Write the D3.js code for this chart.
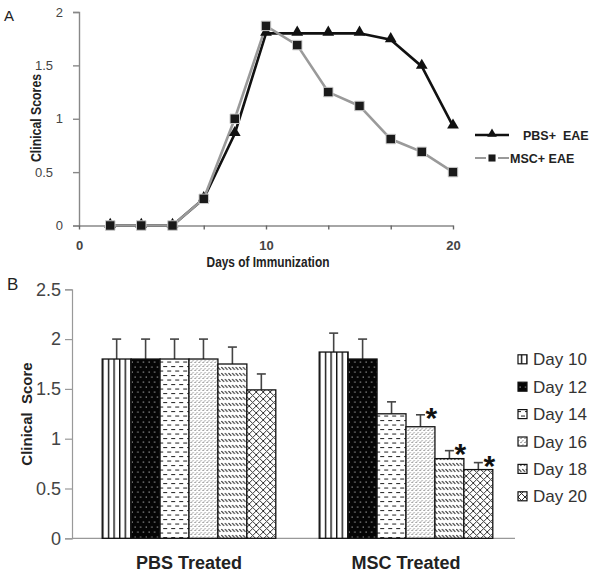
<!DOCTYPE html>
<html><head><meta charset="utf-8">
<script src="https://cdn.jsdelivr.net/npm/d3@7"></script>
<style>
html,body{margin:0;padding:0;background:#fff;}
svg{display:block;font-family:"Liberation Sans",Arial,sans-serif;}
</style></head>
<body>
<svg id="c" width="596" height="577"></svg>
<script>
// ---------- Panel A data ----------
const daysA = [1.67, 3.33, 5, 6.67, 8.33, 10, 11.67, 13.33, 15, 16.67, 18.33, 20];
const pbsA  = [0, 0, 0, 0.25, 0.86, 1.8, 1.8, 1.8, 1.8, 1.74, 1.49, 0.93];
const mscA  = [0, 0, 0, 0.25, 1.0, 1.87, 1.69, 1.25, 1.12, 0.81, 0.69, 0.5];
const yTicksA = [0, 0.5, 1, 1.5, 2];
const xTicksA = [0, 3.33, 6.67, 10, 13.33, 16.67, 20];
const xLabelsA = ["0", "", "", "10", "", "", "20"];
const seriesNamesA = ["PBS+  EAE", "MSC+ EAE"];

// ---------- Panel B data ----------
const groupsB = ["PBS Treated", "MSC Treated"];
const dayNamesB = ["Day 10", "Day 12", "Day 14", "Day 16", "Day 18", "Day 20"];
const pbsB = [1.8, 1.8, 1.8, 1.8, 1.75, 1.49];
const pbsErrB = [0.2, 0.2, 0.2, 0.2, 0.17, 0.16];
const mscB = [1.87, 1.8, 1.25, 1.12, 0.8, 0.69];
const mscErrB = [0.19, 0.2, 0.12, 0.12, 0.08, 0.07];
const mscSigB = [false, false, false, true, true, true];
const yTicksB = [0, 0.5, 1, 1.5, 2, 2.5];

const svg = d3.select("#c");
const defs = svg.append("defs");

// ---------- patterns ----------
function pat(id, w, h, bg, draw) {
  const p = defs.append("pattern").attr("id", id).attr("patternUnits", "userSpaceOnUse")
    .attr("width", w).attr("height", h);
  p.append("rect").attr("width", w).attr("height", h).attr("fill", bg);
  draw(p);
}
pat("p0", 5.6, 10, "#fff", p => p.append("rect").attr("x", 0).attr("y", 0).attr("width", 1.4).attr("height", 10).attr("fill", "#111"));
pat("p1", 5.6, 10, "#050505", p => {
  p.append("rect").attr("x", 1.5).attr("y", 1.5).attr("width", 1.2).attr("height", 1.2).attr("fill", "#aaa");
  p.append("rect").attr("x", 4.3).attr("y", 6.5).attr("width", 1.2).attr("height", 1.2).attr("fill", "#aaa");
});
pat("p2", 8, 9, "#fff", p => {
  p.append("rect").attr("x", 1).attr("y", 1.5).attr("width", 4).attr("height", 1.1).attr("fill", "#333");
  p.append("rect").attr("x", 5).attr("y", 6).attr("width", 4).attr("height", 1.1).attr("fill", "#333");
  p.append("rect").attr("x", -3).attr("y", 6).attr("width", 4).attr("height", 1.1).attr("fill", "#333");
});
pat("p3", 4, 4, "#fff", p => {
  p.append("path").attr("d", "M0.5,3 L2,1.5").attr("stroke", "#555").attr("stroke-width", 1);
  p.append("path").attr("d", "M2.5,1 L3.5,0").attr("stroke", "#777").attr("stroke-width", 0.8);
});
pat("p4", 3.6, 6, "#fff", p => {
  p.append("path").attr("d", "M0.4,1 L3,3.8").attr("stroke", "#333").attr("stroke-width", 1.1);
});
pat("p5", 7, 7, "#fff", p => {
  p.append("path").attr("d", "M0,0 L7,7 M7,0 L0,7").attr("stroke", "#333").attr("stroke-width", 1);
});
const patIds = ["p0", "p1", "p2", "p3", "p4", "p5"];

// ================= Panel A =================
const xA = d3.scaleLinear().domain([0, 20]).range([79, 453]);
const yA = d3.scaleLinear().domain([0, 2]).range([225.5, 12]);
const gA = svg.append("g");

gA.append("text").attr("x", 4).attr("y", 21).attr("font-size", 15).attr("fill", "#222").text("A");

// y axis
const yAxA = gA.append("g").attr("transform", `translate(${xA(0)},0)`)
  .call(d3.axisLeft(yA).tickValues(yTicksA).tickSize(6).tickPadding(16).tickFormat(d => d));
yAxA.select(".domain").attr("stroke", "#888").attr("stroke-width", 1.4);
yAxA.selectAll(".tick line").attr("stroke", "#888").attr("stroke-width", 1.4);
yAxA.selectAll(".tick text").attr("font-size", 13).attr("fill", "#444")
  .attr("font-family", "Liberation Sans, Arial, sans-serif")
  .attr("x", d => Number.isInteger(d) ? -16 : -26);

// x axis
const xAxA = gA.append("g").attr("transform", `translate(0,${yA(0)})`)
  .call(d3.axisBottom(xA).tickValues(xTicksA).tickSize(4).tickSizeOuter(0).tickPadding(11)
    .tickFormat((d, i) => xLabelsA[i]));
xAxA.select(".domain").attr("stroke", "#888").attr("stroke-width", 1.4);
xAxA.selectAll(".tick line").attr("stroke", "#666").attr("stroke-width", 1.4);
xAxA.selectAll(".tick text").attr("font-size", 13).attr("fill", "#444").attr("font-weight", "bold")
  .attr("font-family", "Liberation Sans, Arial, sans-serif");

// axis titles
gA.append("text").attr("transform", `translate(41,118) rotate(-90) scale(0.82,1)`)
  .attr("text-anchor", "middle").attr("font-size", 15).attr("font-weight", "bold").attr("fill", "#222")
  .text("Clinical Scores");
gA.append("text").attr("transform", `translate(268,267) scale(0.85,1)`)
  .attr("text-anchor", "middle").attr("font-size", 14).attr("font-weight", "bold").attr("fill", "#222")
  .text("Days of Immunization");

const lineA = d3.line().x(d => xA(d[0])).y(d => yA(d[1]));
const pbsPts = daysA.map((d, i) => [d, pbsA[i]]);
const mscPts = daysA.map((d, i) => [d, mscA[i]]);
gA.append("path").datum(pbsPts).attr("d", lineA).attr("fill", "none").attr("stroke", "#111").attr("stroke-width", 2.6);
gA.append("path").datum(mscPts).attr("d", lineA).attr("fill", "none").attr("stroke", "#9a9a9a").attr("stroke-width", 2.6);
const tri = d3.symbol().type(d3.symbolTriangle).size(60);
const sq = d3.symbol().type(d3.symbolSquare).size(90);
gA.selectAll(".tri").data(pbsPts).join("path").attr("class", "tri")
  .attr("transform", d => `translate(${xA(d[0])},${yA(d[1]) - 1})`).attr("d", tri).attr("fill", "#111");
gA.selectAll(".sq").data(mscPts).join("path").attr("class", "sq")
  .attr("transform", d => `translate(${xA(d[0])},${yA(d[1])})`).attr("d", sq)
  .attr("fill", "#1a1a1a").attr("stroke", "#ccc").attr("stroke-width", 1);

// legend A
const legA = gA.append("g");
legA.append("line").attr("x1", 475).attr("x2", 509).attr("y1", 135).attr("y2", 135).attr("stroke", "#111").attr("stroke-width", 2.6);
legA.append("path").attr("transform", "translate(492,134)").attr("d", d3.symbol().type(d3.symbolTriangle).size(40)).attr("fill", "#111");
legA.append("text").attr("x", 523).attr("y", 140).attr("font-size", 12.5).attr("font-weight", "bold").attr("fill", "#222")
  .style("white-space", "pre").text(seriesNamesA[0]);
legA.append("line").attr("x1", 475).attr("x2", 486).attr("y1", 158).attr("y2", 158).attr("stroke", "#9a9a9a").attr("stroke-width", 2);
legA.append("line").attr("x1", 498).attr("x2", 509).attr("y1", 158).attr("y2", 158).attr("stroke", "#9a9a9a").attr("stroke-width", 2);
legA.append("path").attr("transform", "translate(492,158)").attr("d", d3.symbol().type(d3.symbolSquare).size(50)).attr("fill", "#1a1a1a");
legA.append("text").attr("x", 510).attr("y", 163).attr("font-size", 12.5).attr("font-weight", "bold").attr("fill", "#222")
  .text(seriesNamesA[1]);

// ================= Panel B =================
const yB = d3.scaleLinear().domain([0, 2.5]).range([538.3, 289.3]);
const x0 = d3.scaleBand().domain(groupsB).range([80.5, 514.5]).paddingInner(0.2).paddingOuter(0.1);
const x1 = d3.scaleBand().domain(dayNamesB).range([0, x0.bandwidth()]);
const gB = svg.append("g");

gB.append("text").attr("x", 7).attr("y", 290).attr("font-size", 17).attr("fill", "#222").text("B");

const yAxB = gB.append("g").attr("transform", "translate(72,0)")
  .call(d3.axisLeft(yB).tickValues(yTicksB).tickSize(7).tickPadding(4).tickFormat(d => d));
yAxB.select(".domain").attr("stroke", "#999").attr("stroke-width", 1.2);
yAxB.selectAll(".tick line").attr("stroke", "#999").attr("stroke-width", 1.2);
yAxB.selectAll(".tick text").attr("font-size", 18).attr("fill", "#444")
  .attr("font-family", "Liberation Sans, Arial, sans-serif");

gB.append("line").attr("x1", 72).attr("x2", 515).attr("y1", yB(0)).attr("y2", yB(0))
  .attr("stroke", "#999").attr("stroke-width", 1.2);

gB.append("text").attr("transform", "translate(32,414) rotate(-90)")
  .attr("text-anchor", "middle").attr("font-size", 15).attr("font-weight", "bold").attr("fill", "#222")
  .style("white-space", "pre").text("Clinical  Score");

const dataB = [
  { g: groupsB[0], v: pbsB, e: pbsErrB, s: [false, false, false, false, false, false] },
  { g: groupsB[1], v: mscB, e: mscErrB, s: mscSigB }
];
dataB.forEach(grp => {
  const gg = gB.append("g").attr("transform", `translate(${x0(grp.g)},0)`);
  dayNamesB.forEach((dn, i) => {
    const x = x1(dn), w = x1.bandwidth(), v = grp.v[i], e = grp.e[i];
    const cx = x + w / 2;
    gg.append("line").attr("x1", cx).attr("x2", cx).attr("y1", yB(v)).attr("y2", yB(v + e))
      .attr("stroke", "#444").attr("stroke-width", 1.6);
    gg.append("line").attr("x1", cx - 4.5).attr("x2", cx + 4.5).attr("y1", yB(v + e)).attr("y2", yB(v + e))
      .attr("stroke", "#444").attr("stroke-width", 1.6);
    gg.append("rect").attr("x", x).attr("y", yB(v)).attr("width", w).attr("height", yB(0) - yB(v))
      .attr("fill", `url(#${patIds[i]})`).attr("stroke", "#111").attr("stroke-width", 1.3);
    if (grp.s[i]) {
      gg.append("text").attr("x", cx + 11).attr("y", yB(v + e) + 13).attr("text-anchor", "middle")
        .attr("font-size", 30).attr("font-weight", "bold").attr("fill", "#111").text("*");
    }
  });
  gB.append("text").attr("x", x0(grp.g) + x0.bandwidth() / 2).attr("y", 569).attr("text-anchor", "middle")
    .attr("font-size", 18).attr("font-weight", "bold").attr("fill", "#222").text(grp.g);
});

// legend B
const legB = gB.append("g");
dayNamesB.forEach((dn, i) => {
  const cy = 359.3 + i * 27.4;
  legB.append("rect").attr("x", 518).attr("y", cy - 4.5).attr("width", 9).attr("height", 9)
    .attr("fill", `url(#${patIds[i]})`).attr("stroke", "#111").attr("stroke-width", 1.2);
  legB.append("text").attr("x", 533).attr("y", cy + 6).attr("font-size", 17).attr("fill", "#333").text(dn);
});
</script>
</body></html>
